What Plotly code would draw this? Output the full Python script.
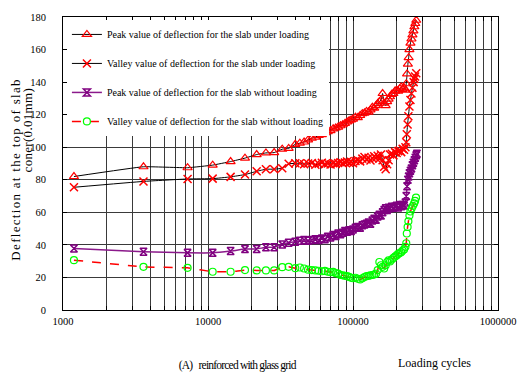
import plotly.graph_objects as go

# ---------------- data ----------------
base_x = [1190, 3590, 7230, 10770, 14320, 17990, 21660, 25100, 28600, 32500,
          36000, 40000, 43000, 46000, 49000, 52000, 55000, 58000, 61000, 64000,
          67000, 70000, 73000, 76000, 79000, 82000, 85000, 88000, 91000, 94000,
          97000, 100000, 104000, 108000, 112000, 116000, 120000, 124000, 128000, 132000,
          136000, 140000, 144000, 148000, 152000, 156000, 160000, 164000, 168000, 172000,
          176000, 180000, 185000, 190000, 195000, 200000, 205000, 210000, 215000, 220000,
          225000, 230000]

peak_load_x = base_x + [233000, 236000, 239000, 242000, 245000, 249000, 253000,
                        257000, 261000, 265000, 269000, 273000]
peak_load_y = [82, 88, 87.4, 89, 91.2, 93.3, 95.5, 96.5, 96.7, 98.8,
               99.3, 101.8, 102.5, 103.2, 104.5, 105.5, 106.2, 107.2, 107.8, 108.8,
               109.5, 110.2, 111.3, 111.8, 112.4, 113.2, 113.8, 114.6, 115.5, 116.2,
               116.8, 117.3, 118.5, 118.2, 119.5, 120.6, 121, 122, 121.6, 123,
               124.5, 124, 125.5, 126.8, 128, 129, 133, 127, 125.5, 128,
               129.5, 131, 132.5, 133, 134.5, 135, 134.5, 136, 137, 135.5,
               136.5, 135, 139, 145, 151, 155, 160, 164, 166.5, 169,
               171.5, 174, 176, 178]

valley_load_x = base_x + [233000, 235000, 238000, 241000, 245000, 249000, 253000,
                          257000, 262000, 265000, 268000, 273000]
valley_load_y = [75.4, 79, 80.5, 80.7, 81.8, 83.2, 85.2, 86.5, 86.5, 87.1,
                 89.8, 90.1, 90.1, 89.5, 90, 90.3, 89.2, 89.8, 90.5, 89.6,
                 90, 89.4, 90.2, 89.7, 90.3, 90.8, 90.1, 90.6, 91.2, 90.5,
                 91, 90.2, 91.5, 92, 91.3, 93, 94, 92.5, 93.5, 91.8,
                 93.2, 94.5, 93.4, 94.8, 93, 95.5, 92, 88, 86.5, 89.5,
                 92, 95.5, 96, 95, 97, 96.5, 97.5, 98, 97, 99,
                 98.5, 100, 103, 108, 114, 119, 125, 129, 133, 136.5,
                 140, 142, 143.5, 145.5]

peak_free_x = base_x + [233000, 236000, 239000, 242000, 245000, 249000, 253000,
                        257000, 261000, 265000, 269000, 273000, 276000]
peak_free_y = [37.8, 35.8, 35.1, 35.1, 36.2, 37.4, 37.5, 38.5, 38.5, 40.3,
               41.3, 42, 42.5, 43, 42.5, 43, 43.4, 43, 44, 43.5,
               45, 44.5, 46, 45.5, 47, 46.5, 47.5, 48.5, 48, 49,
               48.5, 49.5, 50.5, 51, 50.5, 52, 52.5, 53, 53.8, 53,
               55, 56, 55.5, 57.5, 58.5, 58, 60, 61.5, 62.5, 61.5,
               62.8, 62.5, 63.5, 62.8, 63.5, 64, 63, 64.5, 63.8, 64.5,
               64.2, 66, 70, 76, 80, 82, 84, 85.5, 87, 89,
               90.5, 92, 93.5, 95, 96]

valley_free_x = base_x + [233000, 235000, 238000, 241000, 245000, 249000, 254000,
                          259000, 264000, 268000, 272000]
valley_free_y = [30.6, 26.5, 25.9, 23.5, 23.5, 24.5, 24.3, 24.3, 24.3, 26.3,
                 26.5, 25.7, 26.1, 25.5, 24.8, 24.5, 24.3, 24.1, 23.8, 24,
                 23.5, 23.2, 23.4, 22.6, 22.3, 21.5, 21.3, 21, 20.8, 20.3,
                 19.8, 19.5, 19.8, 19.2, 18.8, 19.5, 20.2, 20.8, 21, 21.3,
                 21.5, 21.8, 22.3, 24.5, 29.5, 27.5, 26.5, 25.5, 27.5, 29.5,
                 30.5, 29.8, 31, 32, 32.8, 33.5, 34.5, 35, 35.5, 36.5,
                 37.2, 38.8, 41, 47, 51, 54.5, 58, 60.5, 62.5, 64,
                 65.5, 67, 69]

series_names = ["Peak value of deflection for the slab under loading",
                "Valley value of deflection for the slab under loading",
                "Peak value of deflection for the slab without loading",
                "Valley value of deflection for the slab without loading"]

x_tickvals = [m * 10 ** e for e in (3, 4, 5) for m in range(1, 10)] + [1000000]
x_ticktext = [("%d" % v) if v in (1000, 10000, 100000, 1000000) else "" for v in x_tickvals]
y_tickvals = [0, 20, 40, 60, 80, 100, 120, 140, 160, 180]

FONT = "Liberation Serif"
SMOOTH = 0.3

fig = go.Figure()
fig.add_trace(go.Scatter(
    x=peak_load_x, y=peak_load_y, name=series_names[0], mode="lines+markers",
    line=dict(color="black", width=1, shape="spline", smoothing=SMOOTH),
    marker=dict(symbol="triangle-up-open", size=8, color="red", line=dict(width=1.2, color="red")),
    legendgroup="a"))
fig.add_trace(go.Scatter(
    x=valley_load_x, y=valley_load_y, name=series_names[1], mode="lines+markers",
    line=dict(color="black", width=1, shape="spline", smoothing=SMOOTH),
    marker=dict(symbol="x-thin-open", size=8, color="red", line=dict(width=1.5, color="red")),
    legendgroup="b"))
fig.add_trace(go.Scatter(
    x=peak_free_x, y=peak_free_y, name=series_names[2], mode="lines+markers",
    line=dict(color="#8B1A8B", width=1.5, shape="spline", smoothing=SMOOTH),
    marker=dict(symbol="hourglass-open", size=7, color="#800080", line=dict(width=1.5, color="#800080")),
    legendgroup="c"))
fig.add_trace(go.Scatter(
    x=valley_free_x, y=valley_free_y, name=series_names[3], mode="lines+markers",
    line=dict(color="red", width=1.5, dash="dash", shape="spline", smoothing=SMOOTH),
    marker=dict(symbol="circle-open", size=7, color="#00FF00", line=dict(width=1.2, color="#00FF00")),
    legendgroup="d"))

axis_common = dict(showline=True, linecolor="black", linewidth=1, mirror="ticks",
                   ticks="inside", ticklen=4, tickcolor="black", automargin=False,
                   showgrid=True, gridcolor="#3a3a3a", gridwidth=1, zeroline=False,
                   tickfont=dict(family=FONT, size=10.5, color="black"))

fig.update_xaxes(type="log", range=[3, 6], tickmode="array", tickvals=x_tickvals,
                 ticktext=x_ticktext, ticklabelstandoff=1, **axis_common)
fig.update_yaxes(range=[0, 180], tickmode="array", tickvals=y_tickvals,
                 ticklabelstandoff=14, **axis_common)

fig.update_layout(
    width=518, height=374,
    margin=dict(l=63, r=20, t=17, b=64, autoexpand=False),
    paper_bgcolor="white", plot_bgcolor="white",
    font=dict(family=FONT, color="black"),
    legend=dict(x=0.009, y=0.99, xanchor="left", yanchor="top",
                bgcolor="white", borderwidth=0, traceorder="grouped",
                tracegroupgap=10, font=dict(family=FONT, size=10, color="black")),
    annotations=[
        dict(text="Deflection at the top of slab", xref="paper", yref="paper",
             x=-0.111, y=0.481, xanchor="center", yanchor="middle", textangle=-90,
             showarrow=False, font=dict(family=FONT, size=13, color="black")),
        dict(text="coner(0.01mm)", xref="paper", yref="paper",
             x=-0.082, y=0.614, xanchor="center", yanchor="middle", textangle=-90,
             showarrow=False, font=dict(family=FONT, size=13, color="black")),
        dict(text="(A)   reinforced with glass grid", xref="paper", yref="paper",
             x=0.400, y=-0.191, xanchor="center", yanchor="middle",
             showarrow=False, font=dict(family=FONT, size=11.5, color="black")),
        dict(text="Loading cycles", xref="paper", yref="paper",
             x=0.854, y=-0.18, xanchor="center", yanchor="middle",
             showarrow=False, font=dict(family=FONT, size=12, color="black")),
    ],
)

post = """
document.body.style.margin = '0px';
document.querySelectorAll('text.annotation-text').forEach(function (t) {
  var s = t.textContent;
  if (s.indexOf('Deflection') === 0) { t.style.letterSpacing = '1.3px'; }
  else if (s.indexOf('coner') === 0) { t.style.letterSpacing = '0.3px'; }
  else if (s.indexOf('(A)') === 0) { t.style.letterSpacing = '-0.8px'; }
});
"""

fig.write_html("out.html", config={"displayModeBar": False}, post_script=post)
